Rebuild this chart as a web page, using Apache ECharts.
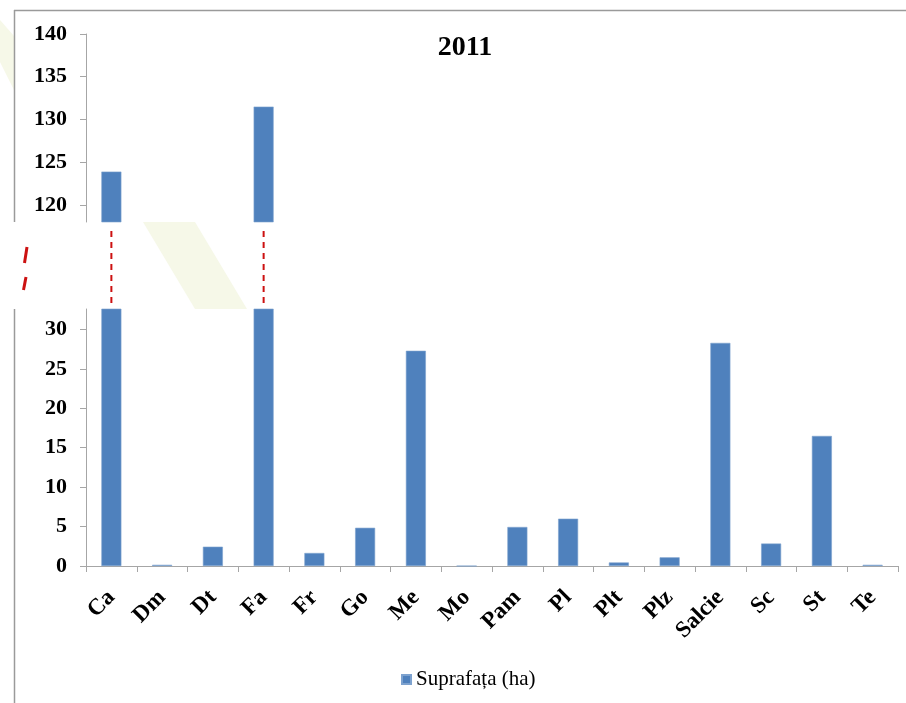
<!DOCTYPE html>
<html>
<head>
<meta charset="utf-8">
<script src="https://cdn.jsdelivr.net/npm/echarts@6/dist/echarts.min.js"></script>
<style>html,body{margin:0;padding:0;background:#fff}#c{width:906px;height:703px}</style>
</head>
<body>
<div id="c"></div>
<script>
// ---- data ----
const categories = ['Ca','Dm','Dt','Fa','Fr','Go','Me','Mo','Pam','Pl','Plt','Plz','Salcie','Sc','St','Te'];
const values = [123.9, 0.15, 2.45, 131.5, 1.65, 4.85, 27.3, 0, 4.95, 6.0, 0.45, 1.1, 28.3, 2.85, 16.5, 0.15];
const topTicks = [120, 125, 130, 135, 140];
const bottomTicks = [0, 5, 10, 15, 20, 25, 30];
const topRange = [118, 140];
const bottomRange = [0, 32.6];
const seriesName = 'Suprafața (ha)';
const titleText = '2011';

// ---- styling ----
const serif = '"Liberation Serif", "DejaVu Serif", serif';
const axisColor = '#a6a6a6';
const barColor = '#4f81bd';
const breakColor = '#cc1111';
const waterColor = '#f6f8e8';

const chart = echarts.init(document.getElementById('c'), null, {renderer: 'canvas'});

function yAxis(gridIndex, range, ticks) {
  return {
    type: 'value', gridIndex: gridIndex, min: range[0], max: range[1],
    axisLine: {show: true, lineStyle: {color: axisColor, width: 1}},
    axisTick: {show: true, customValues: ticks, length: 6, lineStyle: {color: axisColor}},
    axisLabel: {customValues: ticks, margin: 19, color: '#000', fontFamily: serif, fontWeight: 'bold', fontSize: 22},
    splitLine: {show: false}
  };
}

const topData = values.map(v => v >= topRange[0] ? v : '-');

chart.setOption({
  animation: false,
  backgroundColor: '#fff',
  title: {
    text: titleText, left: 460, top: 29, textAlign: 'center',
    textStyle: {fontFamily: serif, fontWeight: 'bold', fontSize: 28, color: '#000'}
  },
  legend: {
    left: 396, top: 664, itemWidth: 9, itemHeight: 9, icon: 'rect',
    textStyle: {fontFamily: serif, fontSize: 21, color: '#000'},
    data: [seriesName]
  },
  grid: [
    {left: 86, right: 8, top: 34, height: 188, outerBoundsMode: 'none', containLabel: false},
    {left: 86, right: 8, top: 309, height: 257, outerBoundsMode: 'none', containLabel: false}
  ],
  xAxis: [
    {type: 'category', gridIndex: 0, data: categories,
     axisLine: {show: false}, axisTick: {show: false}, axisLabel: {show: false}},
    {type: 'category', gridIndex: 1, data: categories,
     axisLine: {show: true, lineStyle: {color: axisColor, width: 1}},
     axisTick: {show: true, length: 6, lineStyle: {color: axisColor}},
     axisLabel: {rotate: 45, margin: 28, interval: 0, color: '#000', fontFamily: serif, fontWeight: 'bold', fontSize: 23}}
  ],
  yAxis: [yAxis(0, topRange, topTicks), yAxis(1, bottomRange, bottomTicks)],
  series: [
    {name: seriesName, type: 'bar', xAxisIndex: 0, yAxisIndex: 0, data: topData,
     barWidth: 20, clip: true, itemStyle: {color: barColor, borderColor: '#7da2cf', borderWidth: 0.6}},
    {name: seriesName, type: 'bar', xAxisIndex: 1, yAxisIndex: 1, data: values,
     barWidth: 20, clip: true, itemStyle: {color: barColor, borderColor: '#7da2cf', borderWidth: 0.6}}
  ]
});

// ---- axis break decorations computed from the library's scales ----
const topBottomY = chart.convertToPixel({yAxisIndex: 0}, topRange[0]);
const bottomTopY = chart.convertToPixel({yAxisIndex: 1}, bottomRange[1]);
const graphics = [];

// faint watermark stripe visible in the break band and outside the frame
graphics.push({type: 'polygon', z: -1, silent: true,
  shape: {points: [[143, topBottomY], [195, topBottomY], [247, bottomTopY], [195, bottomTopY]]},
  style: {fill: waterColor}});
graphics.push({type: 'polygon', z: -1, silent: true,
  shape: {points: [[0, 20], [14, 36], [14, 90], [0, 62]]},
  style: {fill: waterColor}});

// outer frame (interrupted at the break)
graphics.push({type: 'line', silent: true, shape: {x1: 14, y1: 10.5, x2: 906, y2: 10.5},
  style: {stroke: '#9a9a9a', lineWidth: 1.5}});
graphics.push({type: 'line', silent: true, shape: {x1: 14.5, y1: 10, x2: 14.5, y2: topBottomY},
  style: {stroke: '#9a9a9a', lineWidth: 1.5}});
graphics.push({type: 'line', silent: true, shape: {x1: 14.5, y1: bottomTopY, x2: 14.5, y2: 703},
  style: {stroke: '#9a9a9a', lineWidth: 1.5}});

// red break marks on the left
graphics.push({type: 'line', silent: true, shape: {x1: 27, y1: topBottomY + 25, x2: 24.5, y2: topBottomY + 41},
  style: {stroke: breakColor, lineWidth: 3}});
graphics.push({type: 'line', silent: true, shape: {x1: 26, y1: topBottomY + 55, x2: 23.5, y2: topBottomY + 68},
  style: {stroke: breakColor, lineWidth: 3}});

// dashed connectors for bars that cross the break
categories.forEach((c, i) => {
  if (values[i] > bottomRange[1]) {
    const x = chart.convertToPixel({xAxisIndex: 1}, c);
    graphics.push({type: 'line', silent: true,
      shape: {x1: x, y1: topBottomY + 9, x2: x, y2: bottomTopY - 3},
      style: {stroke: breakColor, lineWidth: 2, lineDash: [6, 5]}});
  }
});

chart.setOption({graphic: graphics});
</script>
</body>
</html>
